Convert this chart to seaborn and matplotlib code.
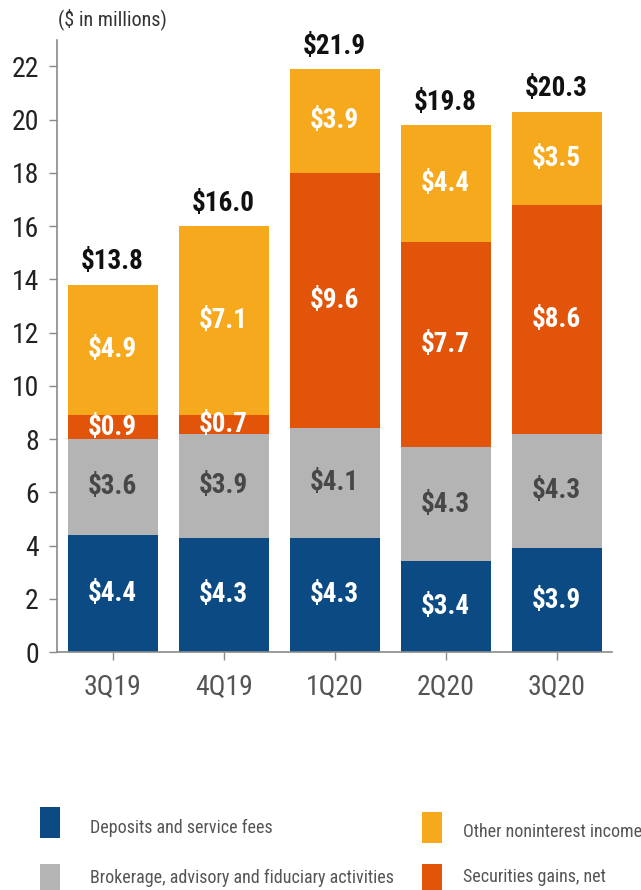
import matplotlib
matplotlib.use("Agg")
import matplotlib.pyplot as plt
from matplotlib import font_manager
from matplotlib.patches import Rectangle
import numpy as np
import pandas as pd
import seaborn as sns

# Quarterly noninterest income, $ in millions
quarters = ["3Q19", "4Q19", "1Q20", "2Q20", "3Q20"]
deposits = [4.4, 4.3, 4.3, 3.4, 3.9]
brokerage = [3.6, 3.9, 4.1, 4.3, 4.3]
securities = [0.9, 0.7, 9.6, 7.7, 8.6]
other = [4.9, 7.1, 3.9, 4.4, 3.5]
totals = [13.8, 16.0, 21.9, 19.8, 20.3]
yticks = [0, 2, 4, 6, 8, 10, 12, 14, 16, 18, 20, 22]

series_names = [
    "Deposits and service fees",
    "Brokerage, advisory and fiduciary activities",
    "Securities gains, net",
    "Other noninterest income",
]
colors = ["#0b4a82", "#b4b4b4", "#e1540a", "#f6a91d"]
label_colors = ["white", "#474747", "white", "white"]

sns.set_theme(style="white")

# prefer a condensed sans face when one is installed
fonts = font_manager.fontManager.ttflist
names = {f.name for f in fonts}
stretch = "normal"
if "Liberation Sans Narrow" in names:
    family = "Liberation Sans Narrow"
elif "Roboto Condensed" in names:
    family = "Roboto Condensed"
elif any(f.name == "DejaVu Sans" and f.stretch == "condensed" for f in fonts):
    family = "DejaVu Sans"
    stretch = "condensed"
else:
    family = "DejaVu Sans"
plt.rcParams["font.family"] = [family, "DejaVu Sans"]
plt.rcParams["font.stretch"] = stretch
scale = 1.0 if (family != "DejaVu Sans" or stretch == "condensed") else 0.85

layers = [deposits, brokerage, securities, other]
df = pd.DataFrame({"quarter": quarters})
for name, vals in zip(series_names, layers):
    df[name] = vals
cum = np.cumsum(np.array(layers, dtype=float), axis=0)

fig = plt.figure(figsize=(6.41, 8.90), dpi=100)
ax = fig.add_axes([0.089, 0.2674, 0.866, 0.688])

# stacked bars: draw cumulative heights from the top layer down
for i in range(len(layers) - 1, -1, -1):
    sns.barplot(x=df["quarter"], y=cum[i], color=colors[i], width=0.81,
                saturation=1, ax=ax, edgecolor="none", linewidth=0)

# segment value labels
for i, vals in enumerate(layers):
    for j, v in enumerate(vals):
        mid = cum[i][j] - v / 2
        ax.text(j, mid, f"${v:.1f}", ha="center", va="center",
                fontsize=19.5 * scale, fontweight="bold", color=label_colors[i])

# total labels above each bar
for j, t in enumerate(totals):
    ax.text(j, cum[-1][j] + 0.35, f"${t:.1f}", ha="center", va="bottom",
            fontsize=19.5 * scale, fontweight="bold", color="#111111")

ax.set_xlim(-0.5, 4.5)
ax.set_ylim(0, 23)
ax.set_yticks(yticks)
ax.set_xlabel("")
ax.set_ylabel("")
for s in ["top", "right"]:
    ax.spines[s].set_visible(False)
for s in ["left", "bottom"]:
    ax.spines[s].set_color("#8a8a8a")
    ax.spines[s].set_linewidth(1.2)
ax.tick_params(axis="both", which="both", length=6, width=1, color="#8a8a8a",
               direction="out", left=True, bottom=True, pad=7)
ax.tick_params(axis="y", labelsize=20 * scale, labelcolor="#222222")
ax.tick_params(axis="x", labelsize=20 * scale, labelcolor="#555555", pad=10)

fig.text(0.09, 0.978, "($ in millions)", ha="left", va="center",
         fontsize=14.5 * scale, color="#333333")

# legend: two columns of tall swatches
legend_items = [
    (0, 40, 807, 90, 828),
    (1, 40, 864, 90, 878),
    (3, 422, 812, 463, 832),
    (2, 422, 864, 463, 877),
]
W, H = 641.0, 890.0
for idx, sx, sy, tx, ty in legend_items:
    fig.add_artist(Rectangle((sx / W, 1 - (sy + 31) / H), 20 / W, 31 / H,
                             transform=fig.transFigure, color=colors[idx],
                             linewidth=0))
    fig.text(tx / W, 1 - ty / H, series_names[idx], ha="left", va="center",
             fontsize=13 * scale if scale == 1.0 else 10.5, color="#555555")

fig.savefig("out.png", dpi=100)
